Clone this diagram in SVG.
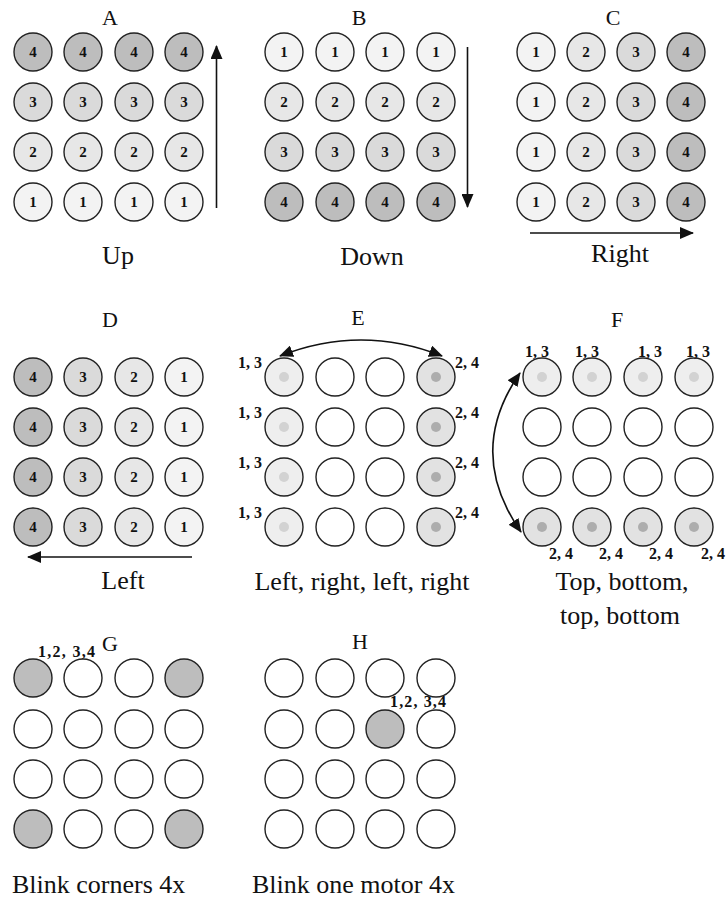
<svg xmlns="http://www.w3.org/2000/svg" width="727" height="909" viewBox="0 0 727 909">
<style>
.c{stroke:#222;stroke-width:1.4}
.f0{fill:#ffffff}.f1{fill:#f3f3f3}.f2{fill:#e7e7e7}.f3{fill:#dadada}.f4{fill:#bdbdbd}
.el{fill:#eeeeee}.ed{fill:#e2e2e2}
.dl{fill:#d2d2d2}.dd{fill:#adadad}
.n{font-family:"Liberation Serif",serif;font-weight:bold;font-size:15px;text-anchor:middle;fill:#111}
.s{font-family:"Liberation Serif",serif;font-weight:bold;font-size:16px;fill:#111}
.t{font-family:"Liberation Serif",serif;font-size:26px;text-anchor:middle;fill:#111}
.h{font-family:"Liberation Serif",serif;font-size:22px;text-anchor:middle;fill:#111}
.a{fill:none;stroke:#111;stroke-width:1.6}
</style>
<defs>
<marker id="ah" viewBox="0 0 14 12" refX="13" refY="6" markerWidth="14" markerHeight="12" markerUnits="userSpaceOnUse" orient="auto-start-reverse">
<path d="M0,0 L14,6 L0,12 Z" fill="#111"/>
</marker>
</defs>
<rect width="727" height="909" fill="#ffffff"/>

<g id="panel-A">
<text class="h" x="110" y="25">A</text>
<circle class="c f4" cx="33" cy="52" r="19"/><circle class="c f4" cx="83" cy="52" r="19"/><circle class="c f4" cx="134" cy="52" r="19"/><circle class="c f4" cx="184" cy="52" r="19"/>
<circle class="c f3" cx="33" cy="102" r="19"/><circle class="c f3" cx="83" cy="102" r="19"/><circle class="c f3" cx="134" cy="102" r="19"/><circle class="c f3" cx="184" cy="102" r="19"/>
<circle class="c f2" cx="33" cy="152" r="19"/><circle class="c f2" cx="83" cy="152" r="19"/><circle class="c f2" cx="134" cy="152" r="19"/><circle class="c f2" cx="184" cy="152" r="19"/>
<circle class="c f1" cx="33" cy="202" r="19"/><circle class="c f1" cx="83" cy="202" r="19"/><circle class="c f1" cx="134" cy="202" r="19"/><circle class="c f1" cx="184" cy="202" r="19"/>
<text class="n" x="33" y="57">4</text><text class="n" x="83" y="57">4</text><text class="n" x="134" y="57">4</text><text class="n" x="184" y="57">4</text>
<text class="n" x="33" y="107">3</text><text class="n" x="83" y="107">3</text><text class="n" x="134" y="107">3</text><text class="n" x="184" y="107">3</text>
<text class="n" x="33" y="157">2</text><text class="n" x="83" y="157">2</text><text class="n" x="134" y="157">2</text><text class="n" x="184" y="157">2</text>
<text class="n" x="33" y="207">1</text><text class="n" x="83" y="207">1</text><text class="n" x="134" y="207">1</text><text class="n" x="184" y="207">1</text>
<text class="t" x="118" y="264">Up</text>
</g>

<g id="panel-B">
<text class="h" x="359" y="25">B</text>
<circle class="c f1" cx="284" cy="52" r="19"/><circle class="c f1" cx="335" cy="52" r="19"/><circle class="c f1" cx="385" cy="52" r="19"/><circle class="c f1" cx="436" cy="52" r="19"/>
<circle class="c f2" cx="284" cy="102" r="19"/><circle class="c f2" cx="335" cy="102" r="19"/><circle class="c f2" cx="385" cy="102" r="19"/><circle class="c f2" cx="436" cy="102" r="19"/>
<circle class="c f3" cx="284" cy="152" r="19"/><circle class="c f3" cx="335" cy="152" r="19"/><circle class="c f3" cx="385" cy="152" r="19"/><circle class="c f3" cx="436" cy="152" r="19"/>
<circle class="c f4" cx="284" cy="202" r="19"/><circle class="c f4" cx="335" cy="202" r="19"/><circle class="c f4" cx="385" cy="202" r="19"/><circle class="c f4" cx="436" cy="202" r="19"/>
<text class="n" x="284" y="57">1</text><text class="n" x="335" y="57">1</text><text class="n" x="385" y="57">1</text><text class="n" x="436" y="57">1</text>
<text class="n" x="284" y="107">2</text><text class="n" x="335" y="107">2</text><text class="n" x="385" y="107">2</text><text class="n" x="436" y="107">2</text>
<text class="n" x="284" y="157">3</text><text class="n" x="335" y="157">3</text><text class="n" x="385" y="157">3</text><text class="n" x="436" y="157">3</text>
<text class="n" x="284" y="207">4</text><text class="n" x="335" y="207">4</text><text class="n" x="385" y="207">4</text><text class="n" x="436" y="207">4</text>
<text class="t" x="372" y="265">Down</text>
</g>

<g id="panel-C">
<text class="h" x="613" y="25">C</text>
<circle class="c f1" cx="536" cy="52" r="19"/><circle class="c f2" cx="586" cy="52" r="19"/><circle class="c f3" cx="636" cy="52" r="19"/><circle class="c f4" cx="686" cy="52" r="19"/>
<circle class="c f1" cx="536" cy="102" r="19"/><circle class="c f2" cx="586" cy="102" r="19"/><circle class="c f3" cx="636" cy="102" r="19"/><circle class="c f4" cx="686" cy="102" r="19"/>
<circle class="c f1" cx="536" cy="152" r="19"/><circle class="c f2" cx="586" cy="152" r="19"/><circle class="c f3" cx="636" cy="152" r="19"/><circle class="c f4" cx="686" cy="152" r="19"/>
<circle class="c f1" cx="536" cy="202" r="19"/><circle class="c f2" cx="586" cy="202" r="19"/><circle class="c f3" cx="636" cy="202" r="19"/><circle class="c f4" cx="686" cy="202" r="19"/>
<text class="n" x="536" y="57">1</text><text class="n" x="586" y="57">2</text><text class="n" x="636" y="57">3</text><text class="n" x="686" y="57">4</text>
<text class="n" x="536" y="107">1</text><text class="n" x="586" y="107">2</text><text class="n" x="636" y="107">3</text><text class="n" x="686" y="107">4</text>
<text class="n" x="536" y="157">1</text><text class="n" x="586" y="157">2</text><text class="n" x="636" y="157">3</text><text class="n" x="686" y="157">4</text>
<text class="n" x="536" y="207">1</text><text class="n" x="586" y="207">2</text><text class="n" x="636" y="207">3</text><text class="n" x="686" y="207">4</text>
<text class="t" x="620" y="262">Right</text>
</g>

<g id="panel-D">
<text class="h" x="110" y="327">D</text>
<circle class="c f4" cx="33" cy="377" r="19"/><circle class="c f3" cx="83" cy="377" r="19"/><circle class="c f2" cx="134" cy="377" r="19"/><circle class="c f1" cx="184" cy="377" r="19"/>
<circle class="c f4" cx="33" cy="427" r="19"/><circle class="c f3" cx="83" cy="427" r="19"/><circle class="c f2" cx="134" cy="427" r="19"/><circle class="c f1" cx="184" cy="427" r="19"/>
<circle class="c f4" cx="33" cy="477" r="19"/><circle class="c f3" cx="83" cy="477" r="19"/><circle class="c f2" cx="134" cy="477" r="19"/><circle class="c f1" cx="184" cy="477" r="19"/>
<circle class="c f4" cx="33" cy="527" r="19"/><circle class="c f3" cx="83" cy="527" r="19"/><circle class="c f2" cx="134" cy="527" r="19"/><circle class="c f1" cx="184" cy="527" r="19"/>
<text class="n" x="33" y="382">4</text><text class="n" x="83" y="382">3</text><text class="n" x="134" y="382">2</text><text class="n" x="184" y="382">1</text>
<text class="n" x="33" y="432">4</text><text class="n" x="83" y="432">3</text><text class="n" x="134" y="432">2</text><text class="n" x="184" y="432">1</text>
<text class="n" x="33" y="482">4</text><text class="n" x="83" y="482">3</text><text class="n" x="134" y="482">2</text><text class="n" x="184" y="482">1</text>
<text class="n" x="33" y="532">4</text><text class="n" x="83" y="532">3</text><text class="n" x="134" y="532">2</text><text class="n" x="184" y="532">1</text>
<text class="t" x="123" y="589">Left</text>
</g>

<g id="panel-E">
<text class="h" x="358" y="325">E</text>
<circle class="c el" cx="284" cy="377" r="19"/><circle class="c f0" cx="335" cy="377" r="19"/><circle class="c f0" cx="385" cy="377" r="19"/><circle class="c ed" cx="436" cy="377" r="19"/>
<circle class="c el" cx="284" cy="427" r="19"/><circle class="c f0" cx="335" cy="427" r="19"/><circle class="c f0" cx="385" cy="427" r="19"/><circle class="c ed" cx="436" cy="427" r="19"/>
<circle class="c el" cx="284" cy="477" r="19"/><circle class="c f0" cx="335" cy="477" r="19"/><circle class="c f0" cx="385" cy="477" r="19"/><circle class="c ed" cx="436" cy="477" r="19"/>
<circle class="c el" cx="284" cy="527" r="19"/><circle class="c f0" cx="335" cy="527" r="19"/><circle class="c f0" cx="385" cy="527" r="19"/><circle class="c ed" cx="436" cy="527" r="19"/>
<circle class="dl" cx="284" cy="377" r="5"/><circle class="dd" cx="436" cy="377" r="5"/>
<circle class="dl" cx="284" cy="427" r="5"/><circle class="dd" cx="436" cy="427" r="5"/>
<circle class="dl" cx="284" cy="477" r="5"/><circle class="dd" cx="436" cy="477" r="5"/>
<circle class="dl" cx="284" cy="527" r="5"/><circle class="dd" cx="436" cy="527" r="5"/>
<text class="s" x="238" y="368">1, 3</text><text class="s" x="455" y="368">2, 4</text>
<text class="s" x="238" y="418">1, 3</text><text class="s" x="455" y="418">2, 4</text>
<text class="s" x="238" y="468">1, 3</text><text class="s" x="455" y="468">2, 4</text>
<text class="s" x="238" y="518">1, 3</text><text class="s" x="455" y="518">2, 4</text>
<text class="t" x="362" y="590">Left, right, left, right</text>
</g>

<g id="panel-F">
<text class="h" x="617" y="327">F</text>
<circle class="c el" cx="542" cy="377" r="19"/><circle class="c el" cx="592" cy="377" r="19"/><circle class="c el" cx="643" cy="377" r="19"/><circle class="c el" cx="694" cy="377" r="19"/>
<circle class="c f0" cx="542" cy="427" r="19"/><circle class="c f0" cx="592" cy="427" r="19"/><circle class="c f0" cx="643" cy="427" r="19"/><circle class="c f0" cx="694" cy="427" r="19"/>
<circle class="c f0" cx="542" cy="477" r="19"/><circle class="c f0" cx="592" cy="477" r="19"/><circle class="c f0" cx="643" cy="477" r="19"/><circle class="c f0" cx="694" cy="477" r="19"/>
<circle class="c ed" cx="542" cy="527" r="19"/><circle class="c ed" cx="592" cy="527" r="19"/><circle class="c ed" cx="643" cy="527" r="19"/><circle class="c ed" cx="694" cy="527" r="19"/>
<circle class="dl" cx="542" cy="377" r="5"/><circle class="dl" cx="592" cy="377" r="5"/><circle class="dl" cx="643" cy="377" r="5"/><circle class="dl" cx="694" cy="377" r="5"/>
<circle class="dd" cx="542" cy="527" r="5"/><circle class="dd" cx="592" cy="527" r="5"/><circle class="dd" cx="643" cy="527" r="5"/><circle class="dd" cx="694" cy="527" r="5"/>
<text class="s" x="525" y="357">1, 3</text><text class="s" x="575" y="357">1, 3</text><text class="s" x="638" y="357">1, 3</text><text class="s" x="686" y="357">1, 3</text>
<text class="s" x="549" y="559">2, 4</text><text class="s" x="599" y="559">2, 4</text><text class="s" x="649" y="559">2, 4</text><text class="s" x="701" y="559">2, 4</text>
<text class="t" x="622" y="590">Top, bottom,</text>
<text class="t" x="620" y="624">top, bottom</text>
</g>

<g id="panel-G">
<text class="h" x="110" y="651">G</text>
<circle class="c f4" cx="33" cy="678" r="19"/><circle class="c f0" cx="83" cy="678" r="19"/><circle class="c f0" cx="134" cy="678" r="19"/><circle class="c f4" cx="184" cy="678" r="19"/>
<circle class="c f0" cx="33" cy="729" r="19"/><circle class="c f0" cx="83" cy="729" r="19"/><circle class="c f0" cx="134" cy="729" r="19"/><circle class="c f0" cx="184" cy="729" r="19"/>
<circle class="c f0" cx="33" cy="779" r="19"/><circle class="c f0" cx="83" cy="779" r="19"/><circle class="c f0" cx="134" cy="779" r="19"/><circle class="c f0" cx="184" cy="779" r="19"/>
<circle class="c f4" cx="33" cy="829" r="19"/><circle class="c f0" cx="83" cy="829" r="19"/><circle class="c f0" cx="134" cy="829" r="19"/><circle class="c f4" cx="184" cy="829" r="19"/>
<text class="s" x="38" y="657" textLength="57" lengthAdjust="spacing">1,2, 3,4</text>
<text class="t" x="12" y="893" style="text-anchor:start">Blink corners 4x</text>
</g>

<g id="panel-H">
<text class="h" x="360" y="649">H</text>
<circle class="c f0" cx="284" cy="678" r="19"/><circle class="c f0" cx="335" cy="678" r="19"/><circle class="c f0" cx="385" cy="678" r="19"/><circle class="c f0" cx="436" cy="678" r="19"/>
<circle class="c f0" cx="284" cy="729" r="19"/><circle class="c f0" cx="335" cy="729" r="19"/><circle class="c f4" cx="385" cy="729" r="19"/><circle class="c f0" cx="436" cy="729" r="19"/>
<circle class="c f0" cx="284" cy="779" r="19"/><circle class="c f0" cx="335" cy="779" r="19"/><circle class="c f0" cx="385" cy="779" r="19"/><circle class="c f0" cx="436" cy="779" r="19"/>
<circle class="c f0" cx="284" cy="829" r="19"/><circle class="c f0" cx="335" cy="829" r="19"/><circle class="c f0" cx="385" cy="829" r="19"/><circle class="c f0" cx="436" cy="829" r="19"/>
<text class="s" x="390" y="707" textLength="56" lengthAdjust="spacing">1,2, 3,4</text>
<text class="t" x="252" y="893" style="text-anchor:start">Blink one motor 4x</text>
</g>

<g id="connectors">
<path class="a" d="M216.5,208 L216.5,46" marker-end="url(#ah)"/>
<path class="a" d="M467.5,47 L467.5,207" marker-end="url(#ah)"/>
<path class="a" d="M530,233 L693,233" marker-end="url(#ah)"/>
<path class="a" d="M192,557 L28,557" marker-end="url(#ah)"/>
<path class="a" d="M280,356 Q361,324 442,356" marker-start="url(#ah)" marker-end="url(#ah)"/>
<path class="a" d="M520,373 Q465,452 521,532" marker-start="url(#ah)" marker-end="url(#ah)"/>
</g>
</svg>
